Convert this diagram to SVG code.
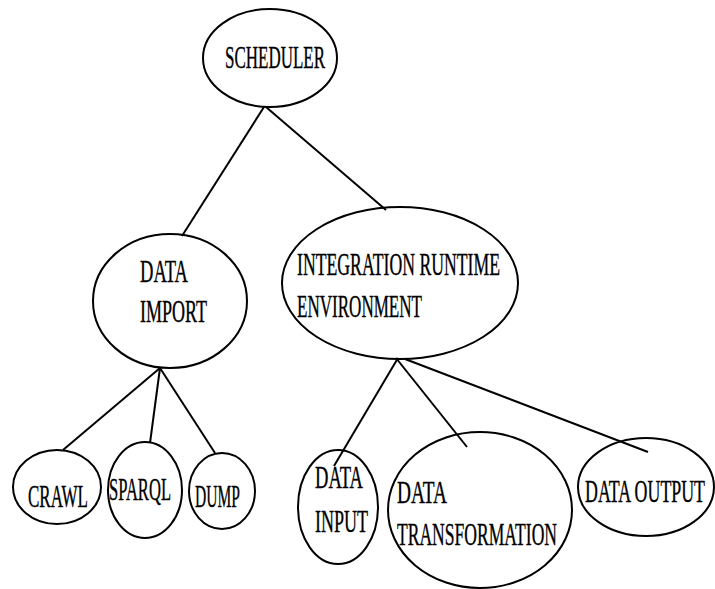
<svg xmlns="http://www.w3.org/2000/svg" width="715" height="589" viewBox="0 0 715 589">
  <style>
    .bg { fill: #ffffff; }
    .node ellipse { fill: none; stroke: #000000; stroke-width: 2; }
    .node text { font-family: "Liberation Serif", "Times New Roman", serif; font-size: 32px; fill: #000000; stroke: #000000; stroke-width: 0.4; }
    #connectors line { stroke: #000000; stroke-width: 2; }
  </style>
  <rect class="bg" x="0" y="0" width="715" height="589"/>

  <g id="connectors">
    <line x1="264" y1="107" x2="182" y2="236"/>
    <line x1="266" y1="107" x2="386" y2="210"/>
    <line x1="160" y1="368" x2="63" y2="450"/>
    <line x1="160" y1="368" x2="150" y2="443"/>
    <line x1="160" y1="368" x2="215" y2="453"/>
    <line x1="398" y1="358" x2="334" y2="466"/>
    <line x1="396" y1="358" x2="467" y2="447"/>
    <line x1="405" y1="359" x2="648" y2="452"/>
  </g>

  <g id="scheduler" class="node">
    <ellipse cx="270" cy="58" rx="67" ry="49"/>
    <text x="225" y="68" textLength="100" lengthAdjust="spacingAndGlyphs">SCHEDULER</text>
  </g>

  <g id="data-import" class="node">
    <ellipse cx="170" cy="301" rx="77" ry="67"/>
    <text x="140" y="282" textLength="48" lengthAdjust="spacingAndGlyphs">DATA</text>
    <text x="140" y="322" textLength="67" lengthAdjust="spacingAndGlyphs">IMPORT</text>
  </g>

  <g id="integration-runtime" class="node">
    <ellipse cx="400" cy="283" rx="118" ry="76"/>
    <text x="297" y="275" textLength="203" lengthAdjust="spacingAndGlyphs">INTEGRATION RUNTIME</text>
    <text x="297" y="317" textLength="125" lengthAdjust="spacingAndGlyphs">ENVIRONMENT</text>
  </g>

  <g id="crawl" class="node">
    <ellipse cx="57" cy="487" rx="44" ry="37"/>
    <text x="28" y="507" textLength="60" lengthAdjust="spacingAndGlyphs">CRAWL</text>
  </g>

  <g id="sparql" class="node">
    <ellipse cx="145" cy="490" rx="37" ry="48"/>
    <text x="109" y="500" textLength="62" lengthAdjust="spacingAndGlyphs">SPARQL</text>
  </g>

  <g id="dump" class="node">
    <ellipse cx="222" cy="491" rx="33" ry="38"/>
    <text x="195" y="507" textLength="45" lengthAdjust="spacingAndGlyphs">DUMP</text>
  </g>

  <g id="data-input" class="node">
    <ellipse cx="338" cy="507" rx="40" ry="57"/>
    <text x="315" y="488" textLength="48" lengthAdjust="spacingAndGlyphs">DATA</text>
    <text x="315" y="532" textLength="53" lengthAdjust="spacingAndGlyphs">INPUT</text>
  </g>

  <g id="data-transformation" class="node">
    <ellipse cx="480" cy="510" rx="92" ry="78"/>
    <text x="397" y="503" textLength="50" lengthAdjust="spacingAndGlyphs">DATA</text>
    <text x="397" y="545" textLength="160" lengthAdjust="spacingAndGlyphs">TRANSFORMATION</text>
  </g>

  <g id="data-output" class="node">
    <ellipse cx="646" cy="487" rx="68" ry="49"/>
    <text x="585" y="502" textLength="120" lengthAdjust="spacingAndGlyphs">DATA OUTPUT</text>
  </g>
</svg>
